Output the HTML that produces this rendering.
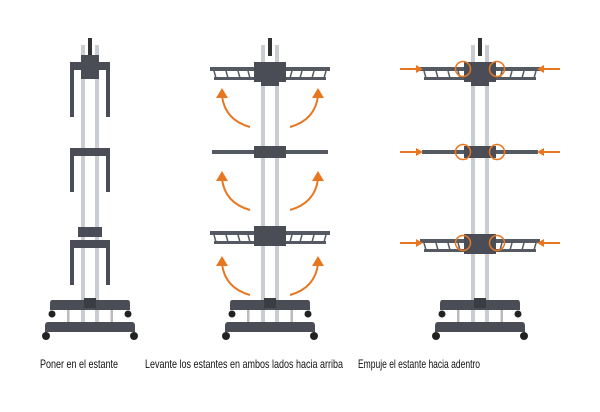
<!DOCTYPE html>
<html><head><meta charset="utf-8"><style>
html,body{margin:0;padding:0;background:#fff;width:600px;height:412px;overflow:hidden}
svg{display:block}
text{font-family:"Liberation Sans",sans-serif;font-size:12px;fill:#111}
</style></head><body>
<svg width="600" height="412" viewBox="0 0 600 412" xmlns="http://www.w3.org/2000/svg">
<defs>
  <g id="base">
    <rect x="-9" y="45" width="4" height="282" fill="#c9ccd0"/>
    <rect x="5" y="45" width="4" height="282" fill="#c9ccd0"/>
    <rect x="-2" y="38" width="4" height="18" fill="#333"/>
    <path d="M-38,300 L38,300 Q40,300 40,304 L40,310 L-40,310 L-40,304 Q-40,300 -38,300Z" fill="#4a4d55"/>
    <rect x="-6" y="298" width="12" height="10" fill="#3a3d44"/>
    <circle cx="-38" cy="314" r="3.5" fill="#222"/>
    <circle cx="38" cy="314" r="3.5" fill="#222"/>
    <rect x="-23" y="310" width="2.5" height="14" fill="#bbb"/>
    <rect x="20.5" y="310" width="2.5" height="14" fill="#bbb"/>
    <path d="M-42,322 L42,322 Q45,322 45,326 L45,332 L-45,332 L-45,326 Q-45,322 -42,322Z" fill="#4a4d55"/>
    <circle cx="-44" cy="336" r="4" fill="#222"/>
    <circle cx="44" cy="336" r="4" fill="#222"/>
  </g>
  <g id="flat">
    <rect x="-58" y="-2" width="116" height="4" fill="#555961"/>
    <rect x="-16" y="-6" width="32" height="12" fill="#4a4d55"/>
  </g>
  <g id="grid">
    <rect x="-60" y="-3" width="120" height="4" fill="#555961"/>
    <rect x="-56" y="7" width="45" height="3" fill="#555961"/>
    <rect x="11" y="7" width="45" height="3" fill="#555961"/>
    <path d="M-56,1 L-54,8 M-44,1 L-42,8 M-32,1 L-30,8 M-22,1 L-20,8 M56,1 L54,8 M44,1 L42,8 M32,1 L30,8 M22,1 L20,8" stroke="#555961" stroke-width="1.5"/>
    <rect x="-16" y="-8" width="32" height="20" fill="#4a4d55"/>
  </g>
  <g id="ar" fill="none" stroke="#e87722" stroke-width="2">
    <path d="M-20,35 Q-45,28 -48,4"/>
    <path d="M-54,6 L-48,-4 L-42,6Z" fill="#e87722" stroke="none"/>
    <path d="M20,35 Q45,28 48,4"/>
    <path d="M54,6 L48,-4 L42,6Z" fill="#e87722" stroke="none"/>
  </g>
  <g id="push">
    <path d="M-80,0 L-63,0" stroke="#e87722" stroke-width="2"/>
    <path d="M-64,-4 L-57,0 L-64,4Z" fill="#e87722"/>
    <path d="M80,0 L63,0" stroke="#e87722" stroke-width="2"/>
    <path d="M64,-4 L57,0 L64,4Z" fill="#e87722"/>
    <circle cx="-17" cy="0" r="7.5" fill="none" stroke="#e87722" stroke-width="1.5"/>
    <circle cx="17" cy="0" r="7.5" fill="none" stroke="#e87722" stroke-width="1.5"/>
  </g>
</defs>

<!-- left rack -->
<g transform="translate(90,0)" fill="#4a4d55">
  <use href="#base"/>
  <rect x="-9" y="55" width="18" height="24"/>
  <rect x="-20" y="62" width="40" height="8"/>
  <rect x="-20" y="62" width="4" height="55"/>
  <rect x="16" y="62" width="4" height="55"/>
  <rect x="-20" y="148" width="40" height="8"/>
  <rect x="-20" y="148" width="4" height="44"/>
  <rect x="16" y="148" width="4" height="44"/>
  <rect x="-12" y="227" width="24" height="10"/>
  <rect x="-20" y="240" width="40" height="8"/>
  <rect x="-20" y="240" width="4" height="45"/>
  <rect x="16" y="240" width="4" height="45"/>
</g>

<!-- middle rack -->
<g transform="translate(270,0)">
  <use href="#base"/>
  <g transform="translate(0,70)"><use href="#grid"/></g>
  <rect x="-9" y="62" width="18" height="24" fill="#4a4d55"/>
  <g transform="translate(0,152)"><use href="#flat"/></g>
  <g transform="translate(0,234)"><use href="#grid"/></g>
  <g transform="translate(0,92)"><use href="#ar"/></g>
  <g transform="translate(0,175)"><use href="#ar"/></g>
  <g transform="translate(0,260)"><use href="#ar"/></g>
</g>

<!-- right rack -->
<g transform="translate(480,0)">
  <use href="#base"/>
  <g transform="translate(0,70)"><use href="#grid"/></g>
  <rect x="-9" y="62" width="18" height="24" fill="#4a4d55"/>
  <g transform="translate(0,152)"><use href="#flat"/></g>
  <g transform="translate(0,242)"><use href="#grid"/></g>
  <g transform="translate(0,69)"><use href="#push"/></g>
  <g transform="translate(0,152)"><use href="#push"/></g>
  <g transform="translate(0,243)"><use href="#push"/></g>
</g>

<text x="40" y="368" textLength="78" lengthAdjust="spacingAndGlyphs">Poner en el estante</text>
<text x="145" y="368" textLength="198" lengthAdjust="spacingAndGlyphs">Levante los estantes en ambos lados hacia arriba</text>
<text x="358" y="368" textLength="122" lengthAdjust="spacingAndGlyphs">Empuje el estante hacia adentro</text>
</svg>
</body></html>
